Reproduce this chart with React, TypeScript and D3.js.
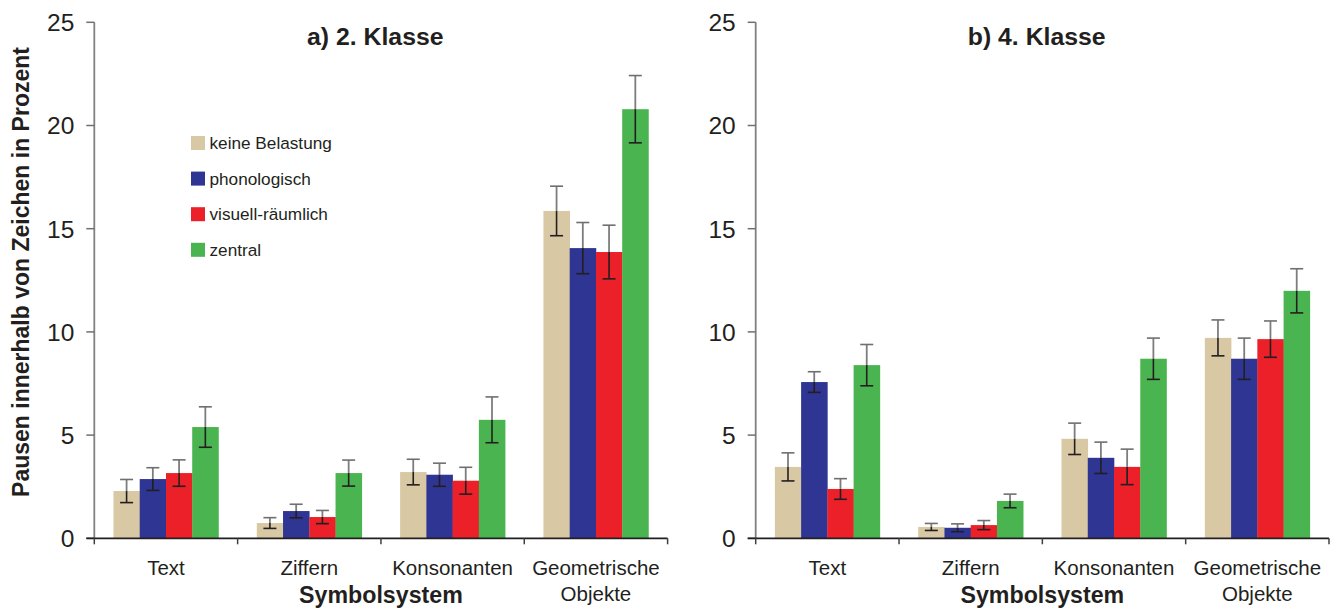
import React from "react";
import * as d3 from "d3";

const categories = ["Text", "Ziffern", "Konsonanten", "Geometrische Objekte"];
const categoryLines = [["Text"], ["Ziffern"], ["Konsonanten"], ["Geometrische", "Objekte"]];
const seriesNames = ["keine Belastung", "phonologisch", "visuell-räumlich", "zentral"];
const seriesColors = ["#D8C9A4", "#2E3592", "#EC2029", "#4AB450"];
const yTicks = [0, 5, 10, 15, 20, 25];

// values per category, per series
const klasse2Means = [
  [2.29, 2.87, 3.16, 5.39],
  [0.74, 1.32, 1.03, 3.16],
  [3.21, 3.08, 2.79, 5.74],
  [15.86, 14.06, 13.87, 20.79],
];
const klasse2Errors = [
  [0.56, 0.55, 0.64, 0.98],
  [0.26, 0.33, 0.32, 0.63],
  [0.62, 0.56, 0.65, 1.11],
  [1.2, 1.24, 1.3, 1.63],
];
const klasse4Means = [
  [3.46, 7.57, 2.39, 8.39],
  [0.55, 0.51, 0.64, 1.81],
  [4.82, 3.9, 3.46, 8.7],
  [9.71, 8.7, 9.65, 11.99],
];
const klasse4Errors = [
  [0.68, 0.5, 0.5, 1.0],
  [0.17, 0.19, 0.22, 0.33],
  [0.76, 0.76, 0.86, 1.0],
  [0.87, 1.0, 0.88, 1.07],
];

const W = 1336;
const H = 609;
const FONT = "'Liberation Sans', Arial, Helvetica, sans-serif";
const TEXT = "#231F20";
const panelWidth = 573.3;
const y = d3.scaleLinear().domain([0, 25]).range([538.3, 22.3]);

function Panel({ left, title, means, errors, showLegend }) {
  const x0 = d3.scaleBand().domain(categories).range([left, left + panelWidth]).paddingInner(0).paddingOuter(0);
  const x1 = d3
    .scaleBand()
    .domain(seriesNames)
    .range([0, x0.bandwidth()])
    .paddingInner(0)
    .paddingOuter(0.73);
  const bw = x1.bandwidth();
  const cap = 6.5;
  const boundaries = categories.map((c) => x0(c)).concat([left + panelWidth]);
  return (
    <g>
      {categories.map((c, ci) =>
        seriesNames.map((s, si) => {
          const v = means[ci][si];
          const bx = x0(c) + x1(s);
          return (
            <rect
              key={c + s}
              x={bx}
              y={y(v)}
              width={bw + 0.3}
              height={y(0) - y(v)}
              fill={seriesColors[si]}
            />
          );
        })
      )}
      {categories.map((c, ci) =>
        seriesNames.map((s, si) => {
          const v = means[ci][si];
          const e = errors[ci][si];
          const cx = x0(c) + x1(s) + bw / 2;
          return (
            <g key={"e" + c + s}>
              <line x1={cx} x2={cx} y1={y(v + e)} y2={y(v)} stroke="#7d7d7d" strokeWidth={1.8} />
              <line x1={cx - cap} x2={cx + cap} y1={y(v + e)} y2={y(v + e)} stroke="#6f6f6f" strokeWidth={1.6} />
              <line x1={cx} x2={cx} y1={y(v)} y2={y(v - e)} stroke="#231F20" strokeWidth={1.6} />
              <line x1={cx - cap} x2={cx + cap} y1={y(v - e)} y2={y(v - e)} stroke="#231F20" strokeWidth={1.6} />
            </g>
          );
        })
      )}
      <line x1={left} x2={left} y1={y(25)} y2={y(0)} stroke="#808080" strokeWidth={1.8} />
      {yTicks.map((t) => (
        <g key={"t" + t}>
          <line x1={left - 8} x2={left} y1={y(t)} y2={y(t)} stroke="#707070" strokeWidth={1.5} />
          <text
            x={left - 20}
            y={y(t)}
            dy="0.36em"
            textAnchor="end"
            fontSize={24.5}
            fontFamily={FONT}
            fill={TEXT}
          >
            {t}
          </text>
        </g>
      ))}
      <line x1={left - 8} x2={left + panelWidth} y1={y(0)} y2={y(0)} stroke="#231F20" strokeWidth={1.8} />
      {boundaries.map((b, i) => (
        <line key={"b" + i} x1={b} x2={b} y1={y(0)} y2={y(0) + 6} stroke="#404040" strokeWidth={1.5} />
      ))}
      {categories.map((c, ci) => (
        <text
          key={"l" + c}
          x={x0(c) + x0.bandwidth() / 2}
          y={575}
          textAnchor="middle"
          fontSize={20.5}
          fontFamily={FONT}
          fill={TEXT}
        >
          {categoryLines[ci].map((line, li) => (
            <tspan key={li} x={x0(c) + x0.bandwidth() / 2} dy={li === 0 ? 0 : 25.5}>
              {line}
            </tspan>
          ))}
        </text>
      ))}
      <text
        x={left + panelWidth / 2}
        y={603}
        textAnchor="middle"
        fontSize={23.2}
        fontWeight="bold"
        fontFamily={FONT}
        fill={TEXT}
      >
        Symbolsystem
      </text>
      <text
        x={left + 281}
        y={45}
        textAnchor="middle"
        fontSize={24.8}
        fontWeight="bold"
        fontFamily={FONT}
        fill={TEXT}
      >
        {title}
      </text>
      {showLegend &&
        seriesNames.map((s, si) => (
          <g key={"lg" + s}>
            <rect x={191} y={136 + si * 35.6} width={14} height={14} fill={seriesColors[si]} />
            <text
              x={209.5}
              y={143 + si * 35.6}
              dy="0.36em"
              fontSize={17.2}
              fontFamily={FONT}
              fill={TEXT}
            >
              {s}
            </text>
          </g>
        ))}
    </g>
  );
}

export default function App() {
  return (
    <svg
      width={W}
      height={H}
      viewBox={`0 0 ${W} ${H}`}
      style={{ position: "absolute", left: 0, top: 0, display: "block", background: "#fff" }}
    >
      <rect x={0} y={0} width={W} height={H} fill="#fff" />
      <text
        transform="translate(29,272) rotate(-90)"
        textAnchor="middle"
        fontSize={23}
        fontWeight="bold"
        fontFamily={FONT}
        fill={TEXT}
      >
        Pausen innerhalb von Zeichen in Prozent
      </text>
      <Panel left={94.3} title="a) 2. Klasse" means={klasse2Means} errors={klasse2Errors} showLegend={true} />
      <Panel left={755.7} title="b) 4. Klasse" means={klasse4Means} errors={klasse4Errors} showLegend={false} />
    </svg>
  );
}
